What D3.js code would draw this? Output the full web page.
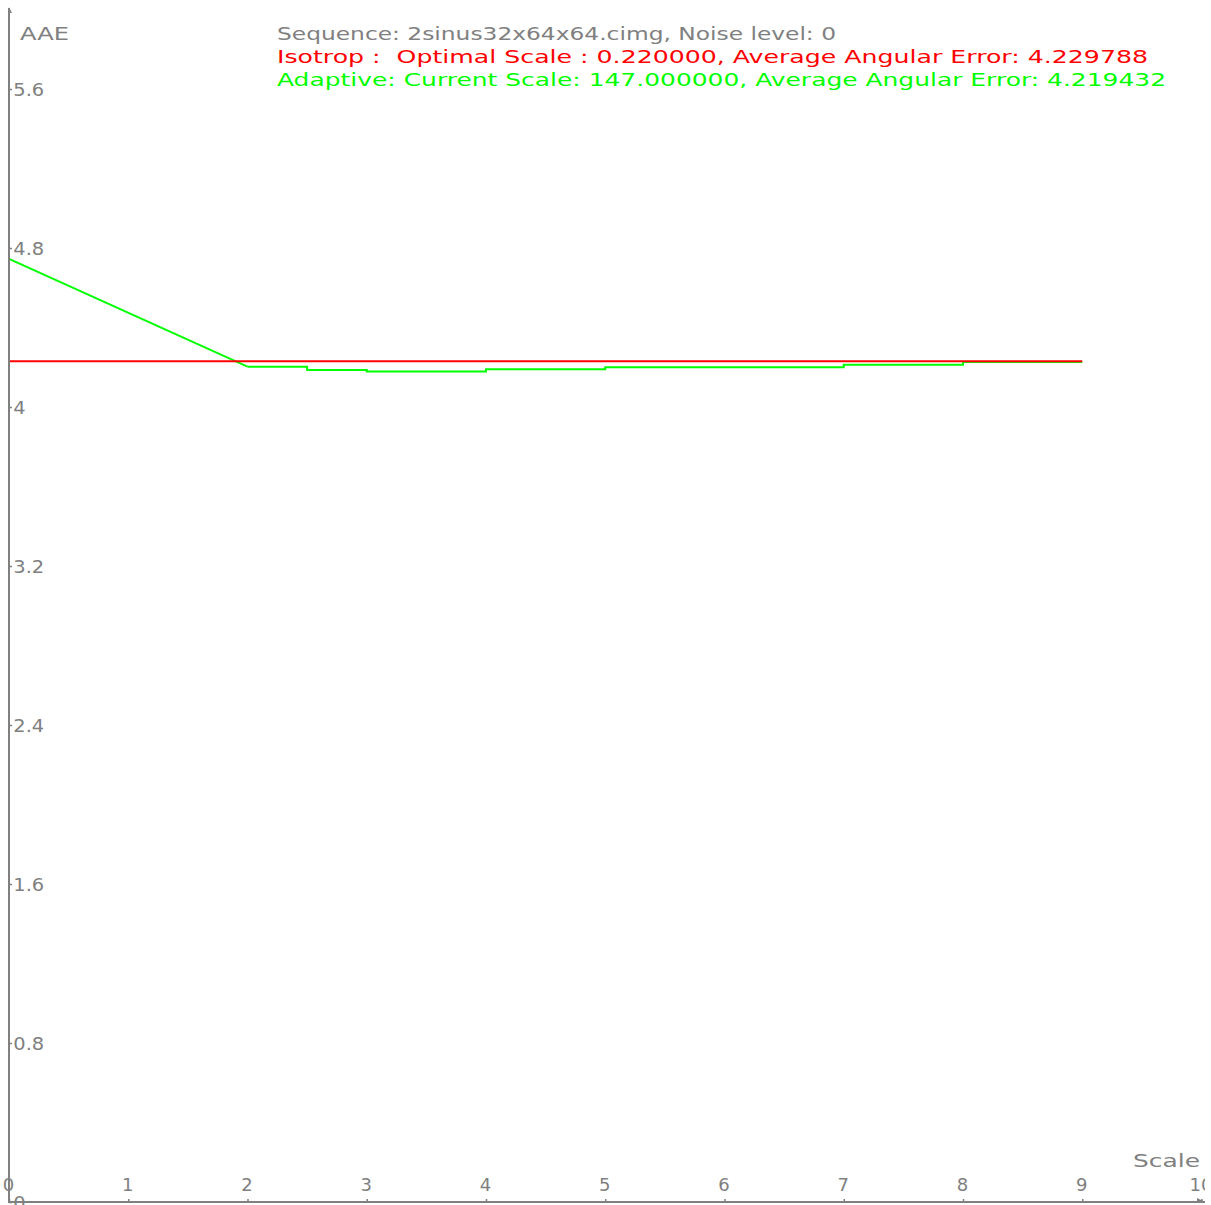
<!DOCTYPE html>
<html>
<head>
<meta charset="utf-8">
<script src="https://cdn.jsdelivr.net/npm/d3@7"></script>
<style>
  html, body { margin: 0; padding: 0; background: #fff; overflow: hidden; }
  svg { display: block; }
  text { font-family: "DejaVu Sans", sans-serif; white-space: pre; }
</style>
</head>
<body>
<svg id="chart" width="1211" height="1205"></svg>
<script>
// ---- data ----
const xTicks = [0, 1, 2, 3, 4, 5, 6, 7, 8, 9, 10];
const yTicks = [0, 0.8, 1.6, 2.4, 3.2, 4, 4.8, 5.6];
const yTickLabels = ["0", "0.8", "1.6", "2.4", "3.2", "4", "4.8", "5.6"];

const isotropScales = [0, 9];
const isotropAAE = [4.229788, 4.229788];

const adaptiveScales = [0, 2, 2.5, 3, 4, 5, 7, 8, 9];
const adaptiveAAE = [4.745, 4.203, 4.186, 4.178, 4.190, 4.200, 4.212, 4.227, 4.227];

const titleLines = [
  "Sequence: 2sinus32x64x64.cimg, Noise level: 0",
  "Isotrop :  Optimal Scale : 0.220000, Average Angular Error: 4.229788",
  "Adaptive: Current Scale: 147.000000, Average Angular Error: 4.219432"
];
const yAxisTitle = "AAE";
const xAxisTitle = "Scale";

// ---- layout ----
const svg = d3.select("#chart");
const axisColor = "#808080";
const x = d3.scaleLinear().domain([0, 10]).range([9, 1201.5]);
const y = d3.scaleLinear().domain([0, 6]).range([1202, 9.5]);

svg.append("defs").append("clipPath").attr("id", "clip")
  .append("rect").attr("x", 0).attr("y", 0).attr("width", 1205).attr("height", 1205);

const root = svg.append("g").attr("clip-path", "url(#clip)");

// y axis (labels to the right)
const yAxis = d3.axisRight(y).tickValues(yTicks)
  .tickFormat((d, i) => yTickLabels[i]).tickSize(3).tickPadding(1);
const gy = root.append("g").attr("transform", `translate(${x(0)},0)`).call(yAxis);
gy.select(".domain").remove();
gy.selectAll(".tick line").attr("stroke", axisColor).attr("stroke-width", 1.5);
gy.selectAll(".tick text").attr("fill", axisColor).attr("font-size", 18)
  .attr("font-family", "DejaVu Sans").attr("dy", "0.36em")
  .attr("transform", "scale(1.08,1)");

// x axis (labels above)
const xAxis = d3.axisTop(x).tickValues(xTicks).tickFormat(d3.format("d"))
  .tickSize(3).tickPadding(8);
const gx = root.append("g").attr("transform", `translate(0,${y(0)})`).call(xAxis);
gx.select(".domain").remove();
gx.selectAll(".tick line").attr("stroke", axisColor).attr("stroke-width", 1.5);
gx.selectAll(".tick text").attr("fill", axisColor).attr("font-size", 18)
  .attr("font-family", "DejaVu Sans").attr("x", -1);

// series
const isoData = isotropScales.map((s, i) => [s, isotropAAE[i]]);
const adaData = adaptiveScales.map((s, i) => [s, adaptiveAAE[i]]);

const lineLin = d3.line().x(d => x(d[0])).y(d => y(d[1]));
const lineStep = d3.line().x(d => x(d[0])).y(d => y(d[1])).curve(d3.curveStepAfter);

root.append("path").attr("d", lineLin(adaData.slice(0, 2)))
  .attr("fill", "none").attr("stroke", "#00ff00").attr("stroke-width", 2);
root.append("path").attr("d", lineStep(adaData.slice(1)))
  .attr("fill", "none").attr("stroke", "#00ff00").attr("stroke-width", 2);

root.append("path").attr("d", lineLin(isoData))
  .attr("fill", "none").attr("stroke", "#ff0000").attr("stroke-width", 2);

// axis lines + arrows
root.append("line").attr("x1", x(0)).attr("x2", x(0)).attr("y1", 8).attr("y2", y(0) + 1)
  .attr("stroke", axisColor).attr("stroke-width", 2);
root.append("line").attr("x1", x(0) - 1).attr("x2", 1205).attr("y1", y(0)).attr("y2", y(0))
  .attr("stroke", axisColor).attr("stroke-width", 2);
root.append("path").attr("d", `M${x(0)},7 L${x(0) + 3},13 L${x(0)},13 Z`).attr("fill", axisColor);
root.append("path").attr("d", `M1205,${y(0)} L1197,${y(0) - 4} L1197,${y(0)} Z`).attr("fill", axisColor);

// axis titles
root.append("text").attr("x", 20).attr("y", 40).attr("fill", axisColor)
  .attr("font-size", 18).attr("textLength", 49).attr("lengthAdjust", "spacingAndGlyphs")
  .text(yAxisTitle);
root.append("text").attr("x", 1133).attr("y", 1167).attr("fill", axisColor)
  .attr("font-size", 18).attr("textLength", 67).attr("lengthAdjust", "spacingAndGlyphs")
  .text(xAxisTitle);

// title lines
const titleColors = [axisColor, "#ff0000", "#00ff00"];
const titleBase = [40, 63, 86];
const titleLen = [559, 871, 889];
titleLines.forEach((t, i) => {
  root.append("text").attr("x", 277).attr("y", titleBase[i])
    .attr("fill", titleColors[i]).attr("font-size", 18)
    .attr("textLength", titleLen[i]).attr("lengthAdjust", "spacingAndGlyphs")
    .text(t);
});
</script>
</body>
</html>
